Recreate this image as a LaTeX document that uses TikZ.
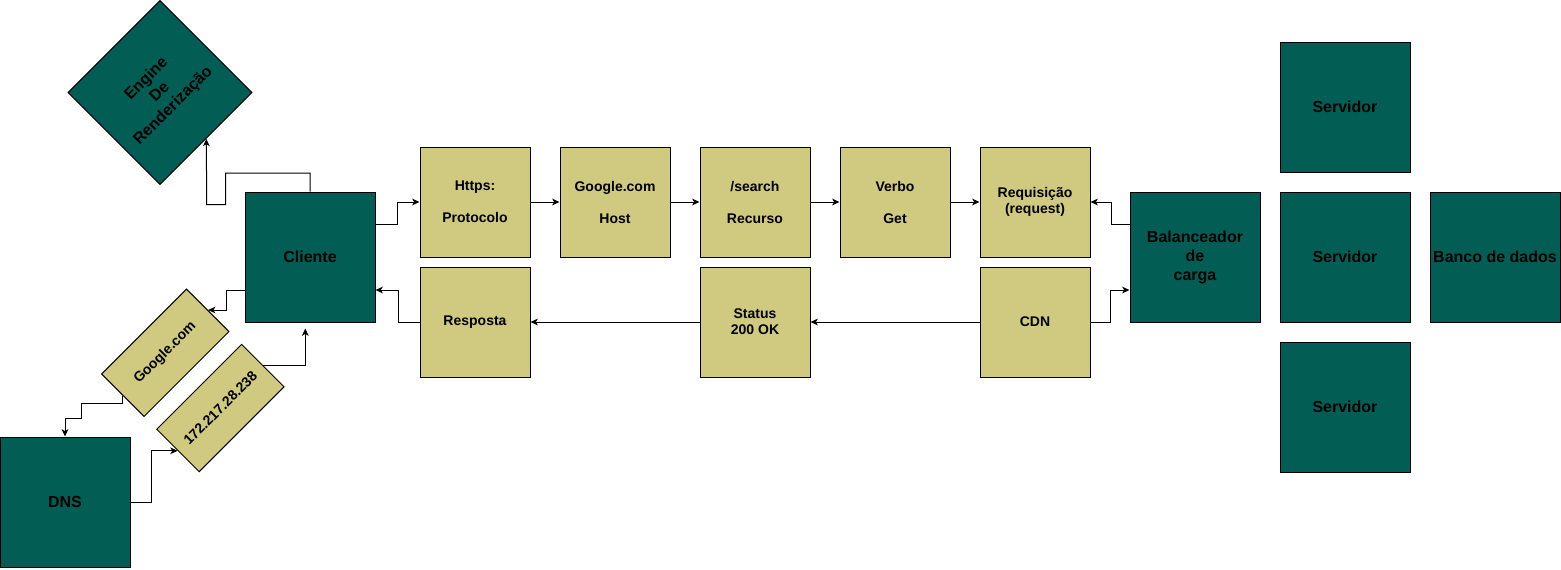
\documentclass[tikz,border=0pt]{standalone}
\usepackage{fontspec}
\setmainfont{Liberation Sans}
\usetikzlibrary{arrows.meta,calc}
\definecolor{dk}{HTML}{025E55}
\definecolor{yl}{HTML}{CFCA7F}
\tikzset{
  darkbox/.style={draw=black, line width=0.75pt, fill=dk, minimum width=97.5pt, minimum height=97.5pt, inner sep=0pt, align=center, font=\bfseries\fontsize{12}{14.25}\selectfont},
  ylbox/.style={draw=black, line width=0.75pt, fill=yl, minimum width=82.5pt, minimum height=82.5pt, inner sep=0pt, align=center, font=\bfseries\fontsize{10.5}{12}\selectfont},
  rotbox/.style={draw=black, line width=0.75pt, fill=yl, minimum width=90pt, minimum height=45pt, inner sep=0pt, align=center, rotate=45, font=\bfseries\fontsize{10.5}{12}\selectfont},
  conn/.style={draw=black, line width=0.75pt, -{Stealth[length=5.5pt,width=5pt,inset=1.5pt]}}
}
\begin{document}
\begin{tikzpicture}[x=0.75pt,y=-0.75pt]
\useasboundingbox (0,0) rectangle (1561,569);
% dark nodes
\node[darkbox, rotate=45] (engine) at (160,92.5) {Engine\\De\\Renderização};
\node[darkbox] (cliente) at (310,257) {Cliente};
\node[darkbox] (dns) at (65,502) {DNS};
\node[darkbox] (bal) at (1195,257) {Balanceador\\de\\carga};
\node[darkbox] (srv1) at (1345,107) {Servidor};
\node[darkbox] (srv2) at (1345,257) {Servidor};
\node[darkbox] (srv3) at (1345,407) {Servidor};
\node[darkbox] (banco) at (1495,257) {Banco de dados};
% rotated yellow
\node[rotbox] (google) at (165.3,352.8) {Google.com};
\node[rotbox] (ip) at (220.4,408) {172.217.28.238};
% yellow boxes top
\node[ylbox] (https) at (475,202) {Https:\\[12pt]Protocolo};
\node[ylbox] (host) at (615,202) {Google.com\\[12pt]Host};
\node[ylbox] (search) at (755,202) {/search\\[12pt]Recurso};
\node[ylbox] (verbo) at (895,202) {Verbo\\[12pt]Get};
\node[ylbox] (req) at (1035,202) {Requisição\\(request)};
% yellow boxes bottom
\node[ylbox] (resp) at (475,322) {Resposta};
\node[ylbox] (status) at (755,322) {Status\\200 OK};
\node[ylbox] (cdn) at (1035,322) {CDN};
% connectors
\draw[conn] (cliente.north) |- (225.7,173) |- (206.7,204.7) -- (engine.south);
\draw[conn] ($(cliente.west)+(0,33)$) -| ($(google.east)+(18.3,0)$) -- (google.east);
\draw[conn] (google.west) -- ++(0,7.6) -| (81.7,418) -| (dns.north);
\draw[conn] (dns.east) -- ++(20.7,0) |- (ip.west);
\draw[conn, shorten >=4.5pt] (ip.east) -| ($(cliente.south)+(-4.7,0)$);
\draw[conn] ($(cliente.east)+(0,-32.5)$) -| ($(https.west)+(-22.3,0)$) -- (https.west);
\draw[conn] (https.east) -- (host.west);
\draw[conn] (host.east) -- (search.west);
\draw[conn] (search.east) -- (verbo.west);
\draw[conn] (verbo.east) -- (req.west);
\draw[conn] ($(bal.west)+(0,-32.5)$) -| ($(req.east)+(20.7,0)$) -- (req.east);
\draw[conn] (cdn.east) -| ($(bal.west)+(-19.3,33)$) -- ($(bal.west)+(0,33)$);
\draw[conn] (cdn.west) -- (status.east);
\draw[conn] (status.west) -- (resp.east);
\draw[conn] (resp.west) -| ($(cliente.east)+(22.7,33)$) -- ($(cliente.east)+(0,33)$);
\end{tikzpicture}
\end{document}
